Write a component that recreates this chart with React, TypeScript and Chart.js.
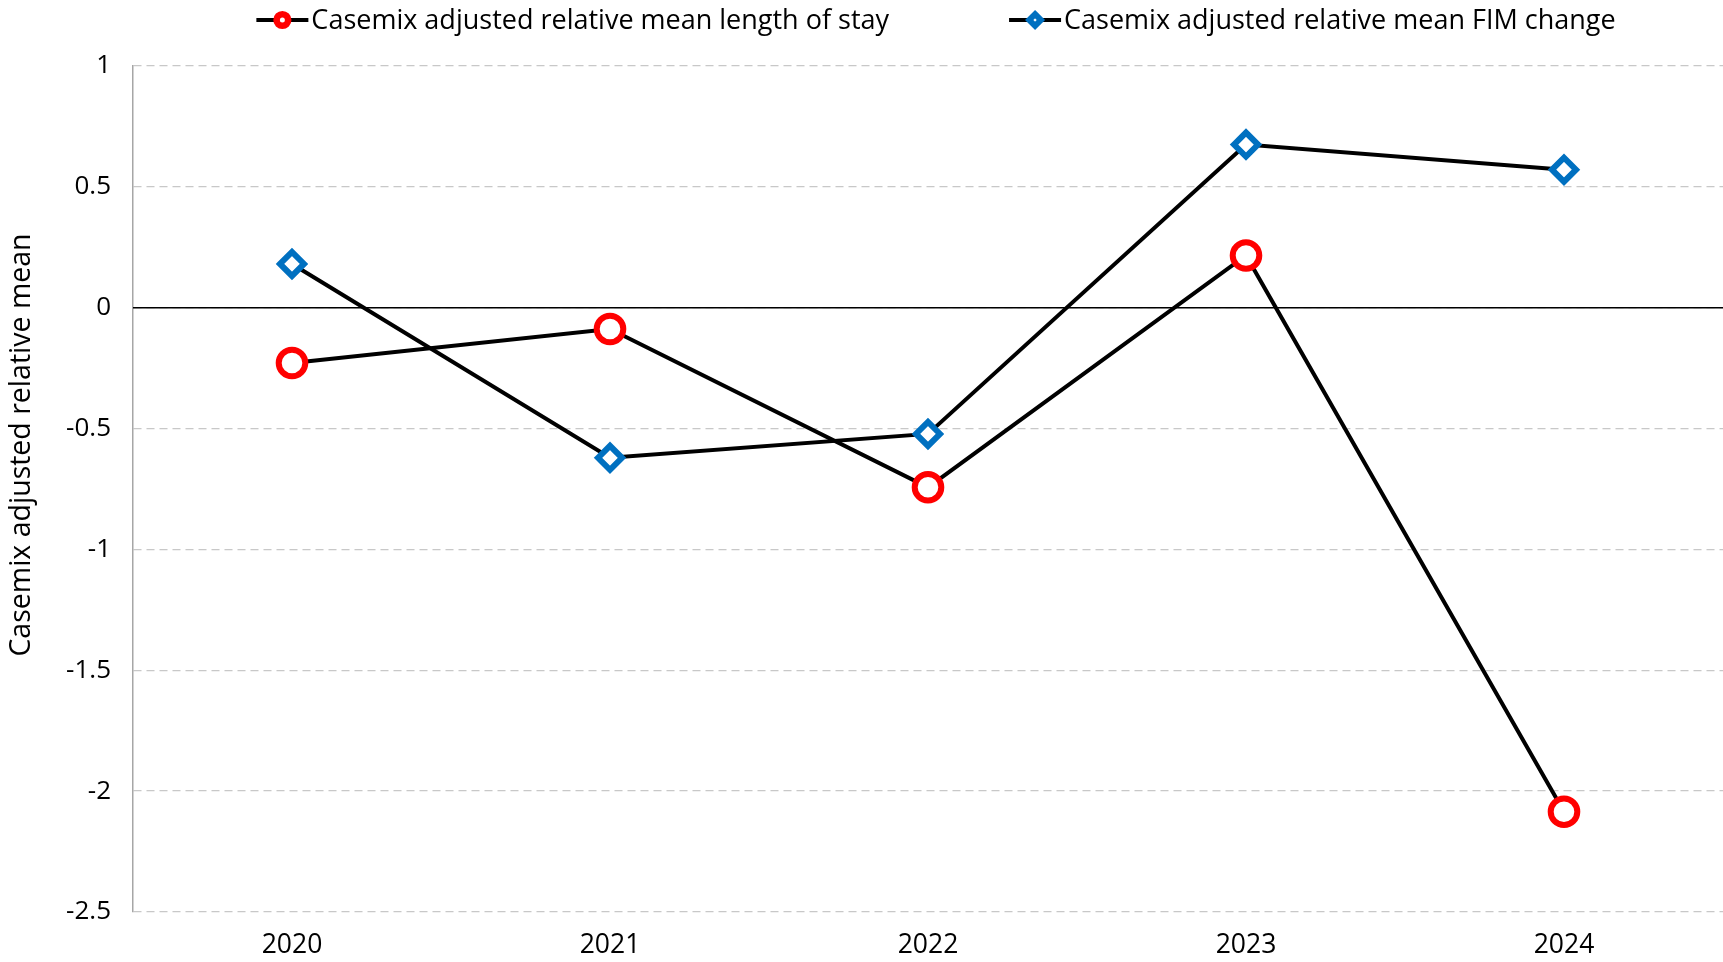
import { useEffect, useRef } from 'react';
import { Chart, registerables } from 'chart.js';

Chart.register(...registerables);

const categories = ['2020', '2021', '2022', '2023', '2024'];
const losValues = [-0.229, -0.088, -0.743, 0.216, -2.085];
const fimValues = [0.181, -0.621, -0.522, 0.675, 0.571];
const seriesLabels = [
  'Casemix adjusted relative mean length of stay',
  'Casemix adjusted relative mean FIM change',
];
const yTitle = 'Casemix adjusted relative mean';
const yTicks = { min: -2.5, max: 1, step: 0.5 };

const FONT = '"Open Sans"';
const RED = '#FF0000';
const BLUE = '#0070C0';
const GRID = '#C8C8C8';

function drawMarker(ctx: CanvasRenderingContext2D, kind: string, cx: number, cy: number, halfW: number) {
  ctx.save();
  ctx.strokeStyle = '#000';
  ctx.lineWidth = 4;
  ctx.beginPath();
  ctx.moveTo(cx - halfW, cy);
  ctx.lineTo(cx + halfW, cy);
  ctx.stroke();
  ctx.fillStyle = '#fff';
  ctx.beginPath();
  if (kind === 'circle') {
    ctx.strokeStyle = RED;
    ctx.lineWidth = 6.6;
    ctx.arc(cx, cy, 5.8, 0, Math.PI * 2);
  } else {
    ctx.strokeStyle = BLUE;
    ctx.lineWidth = 6;
    const r = 5.8;
    ctx.moveTo(cx, cy - r);
    ctx.lineTo(cx + r, cy);
    ctx.lineTo(cx, cy + r);
    ctx.lineTo(cx - r, cy);
    ctx.closePath();
  }
  ctx.fill();
  ctx.stroke();
  ctx.restore();
}

const legendPlugin = {
  id: 'customLegend',
  afterDraw(chart: any) {
    const ctx: CanvasRenderingContext2D = chart.ctx;
    ctx.save();
    ctx.font = `27px ${FONT}`;
    ctx.textBaseline = 'middle';
    ctx.fillStyle = '#000';
    const kinds = ['circle', 'diamond'];
    const markerW = 52;
    const textGap = 3;
    const itemGap = 120;
    const items = chart.data.datasets.map((ds: any, i: number) => ({
      text: ds.label,
      kind: kinds[i],
      w: ctx.measureText(ds.label).width,
    }));
    const total =
      items.reduce((s: number, it: any) => s + markerW + textGap + it.w, 0) + itemGap * (items.length - 1);
    const center = (chart.chartArea.left + chart.chartArea.right) / 2 + 8;
    let x = center - total / 2;
    const y = 20;
    for (const it of items) {
      drawMarker(ctx, it.kind, x + markerW / 2, y, markerW / 2);
      ctx.fillText(it.text, x + markerW + textGap, y + 1);
      x += markerW + textGap + it.w + itemGap;
    }
    ctx.restore();
  },
};

const yTitlePlugin = {
  id: 'yTitle',
  afterDraw(chart: any) {
    const ctx: CanvasRenderingContext2D = chart.ctx;
    const area = chart.chartArea;
    ctx.save();
    ctx.font = `28.5px ${FONT}`;
    ctx.fillStyle = '#000';
    ctx.textAlign = 'center';
    ctx.textBaseline = 'middle';
    ctx.translate(22, (area.top + area.bottom) / 2 - 44);
    ctx.rotate(-Math.PI / 2);
    ctx.fillText(yTitle, 0, 0);
    ctx.restore();
  },
};

const zeroLinePlugin = {
  id: 'zeroLine',
  beforeDatasetsDraw(chart: any) {
    const { ctx, chartArea, scales } = chart;
    const y0 = scales.y.getPixelForValue(0);
    ctx.save();
    ctx.strokeStyle = '#000';
    ctx.lineWidth = 1.5;
    ctx.beginPath();
    ctx.moveTo(chartArea.left, y0);
    ctx.lineTo(chartArea.right, y0);
    ctx.stroke();
    ctx.restore();
  },
};

export default function App() {
  const ref = useRef<HTMLCanvasElement | null>(null);

  useEffect(() => {
    if (!ref.current) return;
    const chart = new Chart(ref.current, {
      type: 'line',
      data: {
        labels: categories,
        datasets: [
          {
            label: seriesLabels[0],
            data: losValues,
            borderColor: '#000',
            borderWidth: 4,
            pointStyle: 'circle',
            pointRadius: 13.3,
            pointBorderWidth: 6,
            pointBorderColor: RED,
            pointBackgroundColor: '#fff',
            tension: 0,
            clip: false,
          },
          {
            label: seriesLabels[1],
            data: fimValues,
            borderColor: '#000',
            borderWidth: 4,
            pointStyle: 'rectRot',
            pointRadius: 12,
            pointBorderWidth: 6,
            pointBorderColor: BLUE,
            pointBackgroundColor: '#fff',
            tension: 0,
            clip: false,
          },
        ],
      },
      options: {
        animation: false,
        responsive: true,
        maintainAspectRatio: false,
        layout: { autoPadding: false, padding: { top: 66, left: 0, right: 0, bottom: 0 } },
        plugins: {
          legend: { display: false },
          tooltip: { enabled: false },
        },
        scales: {
          x: {
            offset: true,
            grid: { display: false, drawTicks: false },
            border: { display: false },
            ticks: {
              padding: 18,
              color: '#000',
              font: { family: FONT, size: 26.5 },
            },
            afterFit: (s: any) => {
              s.height = 50;
              s.paddingLeft = 0;
              s.paddingRight = 0;
            },
          },
          y: {
            min: yTicks.min,
            max: yTicks.max,
            ticks: {
              stepSize: yTicks.step,
              padding: 22,
              color: '#000',
              font: { family: FONT, size: 26 },
              callback: (v: any) => String(v),
            },
            grid: { color: GRID, lineWidth: 1.3, drawTicks: false },
            border: { display: true, color: '#A6A6A6', width: 1.5, dash: [8, 5] },
            title: { display: false },
            afterFit: (s: any) => {
              s.width = 133;
            },
          },
        },
      },
      plugins: [zeroLinePlugin, legendPlugin, yTitlePlugin],
    });
    return () => chart.destroy();
  }, []);

  return (
    <div style={{ position: 'fixed', left: 0, top: 0, width: '1723px', height: '962px', background: '#fff' }}>
      <canvas ref={ref} />
    </div>
  );
}
